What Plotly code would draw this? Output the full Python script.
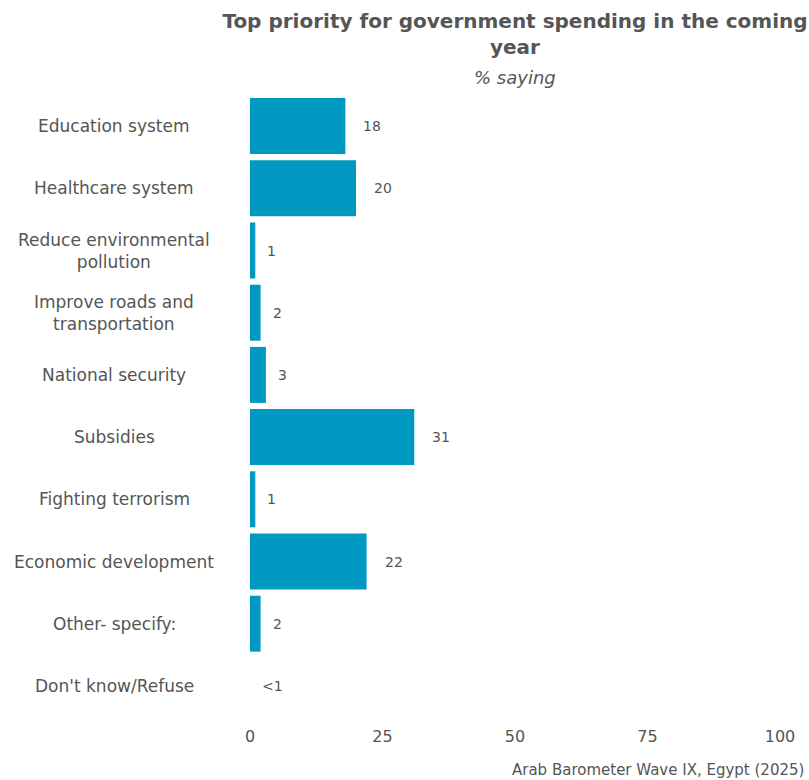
import plotly.graph_objects as go

categories = [
    "Education system",
    "Healthcare system",
    "Reduce environmental<br>pollution",
    "Improve roads and<br>transportation",
    "National security",
    "Subsidies",
    "Fighting terrorism",
    "Economic development",
    "Other- specify:",
    "Don't know/Refuse",
]
values = [18, 20, 1, 2, 3, 31, 1, 22, 2, 0]
labels = ["18", "20", "1", "2", "3", "31", "1", "22", "2", "<1"]
x_ticks = [0, 25, 50, 75, 100]

FONT = "DejaVu Sans"
GREY = "#555555"
BAR = "#0099C1"

W, H = 809, 780
ML, MR, MT, MB = 250, 29, 95, 63
plot_w = W - ML - MR
plot_h = H - MT - MB

fig = go.Figure(
    go.Bar(
        x=values,
        y=categories,
        orientation="h",
        marker=dict(color=BAR, line=dict(width=0)),
        hoverinfo="skip",
    )
)

# value labels just past the end of each bar
for cat, v, lab in zip(categories, values, labels):
    fig.add_annotation(
        x=v, y=cat, xref="x", yref="y", text=lab, showarrow=False,
        xanchor="left", xshift=(10 if v < 10 else 16),
        font=dict(family=FONT, size=14, color=GREY),
    )

# category labels, centred in the left margin
for cat in categories:
    fig.add_annotation(
        x=(114 - ML) / plot_w, y=cat, xref="paper", yref="y", text=cat,
        showarrow=False, xanchor="center", align="center",
        font=dict(family=FONT, size=17, color=GREY),
    )

fig.add_annotation(
    x=(515 - ML) / plot_w, y=1 + (MT - 78) / plot_h, xref="paper", yref="paper",
    yanchor="middle", text="<i>% saying</i>", showarrow=False,
    font=dict(family=FONT, size=18, color=GREY),
)
fig.add_annotation(
    x=1 + 26 / plot_w, y=-(770 - (H - MB)) / plot_h, xref="paper", yref="paper",
    xanchor="right", yanchor="middle",
    text="Arab Barometer Wave IX, Egypt (2025)", showarrow=False,
    font=dict(family=FONT, size=15, color=GREY),
)

fig.update_layout(
    width=W, height=H,
    margin=dict(l=ML, r=MR, t=MT, b=MB),
    paper_bgcolor="white", plot_bgcolor="white",
    bargap=0.1,
    showlegend=False,
    title=dict(
        text="<b>Top priority for government spending in the coming<br>year</b>",
        x=515 / W, xanchor="center", y=1 - 28 / H, yanchor="middle",
        font=dict(family=FONT, size=20, color=GREY),
    ),
    xaxis=dict(
        range=[0, 100], tickvals=x_ticks, showgrid=False, zeroline=False,
        showline=False, ticks="", ticklabelstandoff=8,
        tickfont=dict(family=FONT, size=16, color=GREY),
    ),
    yaxis=dict(
        categoryorder="array", categoryarray=categories[::-1],
        showticklabels=False, showgrid=False, zeroline=False, showline=False,
        ticks="",
    ),
)

fig.write_html("out.html")
